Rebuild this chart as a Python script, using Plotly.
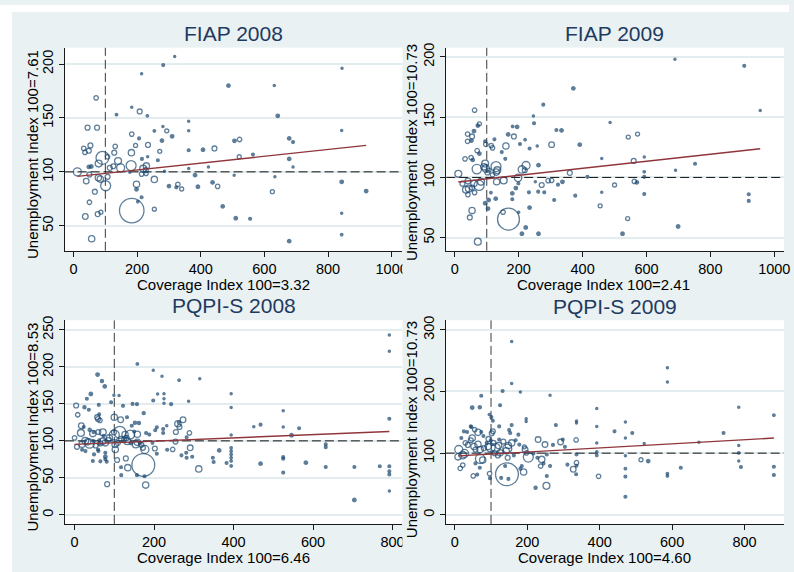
import plotly.graph_objects as go

W, H = 794, 572
BG = "#e9f1f3"
NAVY = "#1a476f"
MAROON = "#90353b"
FONT = "Liberation Sans, Arial, sans-serif"

# ---------------- DATA ----------------
titles = ["FIAP 2008", "FIAP 2009", "PQPI-S 2008", "PQPI-S 2009"]
x_titles = ["Coverage Index 100=3.32", "Coverage Index 100=2.41",
            "Coverage Index 100=6.46", "Coverage Index 100=4.60"]
y_titles = ["Unemployment Index 100=7.61", "Unemployment Index 100=10.73",
            "Unemployment Index 100=8.53", "Unemployment Index 100=10.73"]
x_ticks = [[0, 200, 400, 600, 800, 1000], [0, 200, 400, 600, 800, 1000],
           [0, 200, 400, 600, 800], [0, 200, 400, 600, 800]]
y_ticks = [[50, 100, 150, 200], [50, 100, 150, 200],
           [0, 50, 100, 150, 200, 250], [0, 100, 200, 300]]
ref_value = 100
fit_intercept = [95.4, 95.9, 95.2, 95.2]
fit_slope = [0.0317, 0.0292, 0.0220, 0.0333]

# FIAP 2008
fiap08_x = [318, 282, 214, 844, 487, 631, 71, 183, 208, 232, 135, 642, 362, 44, 74, 254, 281, 293, 310, 362,
            183, 278, 206, 195, 234, 131, 32, 53, 48, 36, 128, 182, 271, 362, 407, 443, 506, 522, 678, 690,
            564, 521, 678, 265, 233, 215, 91, 79, 56, 48, 107, 140, 114, 125, 148, 181, 219, 229, 227, 12,
            50, 40, 84, 78, 107, 101, 198, 198, 254, 214, 228, 286, 177, 300, 328, 340, 323, 382, 362, 424,
            391, 437, 453, 505, 633, 690, 625, 843, 920, 469, 510, 555, 678, 843, 843, 183, 254, 202, 214, 50,
            67, 37, 76, 86, 57, 843]
fiap08_y = [207, 199, 191, 196, 180, 180, 168.6, 160, 156, 152, 153, 152, 147, 141, 141, 138, 142, 138, 133, 138,
            135, 129, 131, 124.5, 125, 123.6, 121.8, 124.5, 119.6, 118, 117.8, 117.8, 119, 120, 120.5, 121.7, 128.8, 130, 131, 127.6,
            116, 114, 112, 110.7, 114, 112, 113, 107.7, 105, 104.6, 114, 110, 103.7, 105.2, 103.7, 105.8, 103, 105.5, 101.5, 100,
            97.5, 91.4, 93.3, 94.5, 95.4, 87.1, 88.4, 83.8, 93, 97.9, 98.5, 100.6, 99.7, 86.8, 88.4, 84.1, 85.6, 96.9, 103, 104.6,
            86.2, 90.2, 86.5, 96.9, 95.4, 104.6, 81.6, 90.8, 82.2, 68, 57, 56.5, 35.7, 61.7, 41.8, 64.1, 65.4, 72.4, 76.4, 71.8,
            81.6, 58.6, 60.8, 62.6, 38, 138.3]
fiap08_w = [1, 2, 1, 1, 3, 1, 5, 1, 6, 1.5, 1.5, 3, 1, 6, 6, 1.5, 1, 4, 3, 1,
            5, 3, 2, 4, 6, 5, 5, 6, 6, 5, 6, 10, 4, 2, 3, 6, 3, 5, 3, 2,
            2, 4, 3, 2, 1, 2, 42, 12, 3, 3, 5, 12, 6, 6, 16, 25, 12, 10, 6, 16,
            6, 8, 10, 10, 6, 25, 10, 3, 10, 5, 5, 1, 1, 3, 5, 4, 2, 3, 1, 1,
            3, 3, 5, 1, 1, 1, 4, 3, 3, 3, 3, 2, 3, 1, 1.5, 150, 4, 1.5, 2, 5,
            6, 8, 6, 4, 10, 1]

# FIAP 2009
fiap09_x = [689, 906, 956, 371, 62, 277, 246, 248, 486, 77, 72, 60, 40, 54, 52, 40, 167, 185, 195, 181,
            124, 220, 318, 334, 303, 391, 543, 572, 460, 560, 593, 752, 691, 97, 95, 70, 77, 114, 118, 160,
            147, 204, 234, 258, 158, 32, 51, 56, 69, 95, 91, 97, 107, 102, 129, 133, 130, 118, 131, 153,
            11, 24, 41, 35, 44, 60, 76, 82, 54, 62, 41, 54, 47, 72, 95, 106, 104, 113, 128, 198,
            210, 223, 219, 199, 191, 180, 180, 151, 168, 200, 234, 232, 222, 210, 262, 262, 252, 261, 280, 272,
            292, 303, 311, 323, 337, 360, 377, 415, 500, 460, 455, 541, 525, 562, 570, 593, 593, 593, 699, 920,
            920]
fiap09_y = [198, 192.6, 155.5, 173.9, 155.8, 160.4, 151, 145, 145.6, 144.5, 143, 138.5, 136, 134, 130.5, 130, 135.7, 134, 142, 142.3,
            131.6, 131.3, 139.3, 139, 127.2, 127.2, 133.5, 136, 115.7, 113.7, 117, 111.3, 106, 127.5, 130, 122.2, 119.8, 126.4, 124.5, 126.1,
            121, 127.7, 124, 126.1, 115.4, 115.4, 116.5, 114.6, 106.9, 111.5, 108.8, 107.4, 106, 104.1, 109, 106, 104.4, 102.2, 96.4, 97.5,
            103, 94.8, 97, 89.8, 90.7, 95, 93.4, 96.4, 91.5, 87.4, 85.7, 72.5, 66.8, 46.7, 78.6, 81.3, 74.2, 87.4, 82.4, 99.7,
            106.6, 109.9, 106, 95, 91.2, 86.8, 81.9, 71.2, 65.4, 71.2, 75, 87.6, 58.5, 53.3, 53.3, 110.2, 96.4, 88.2, 87.6, 93.7,
            97.3, 97.5, 81.3, 94, 96.4, 103.8, 84.9, 100.5, 93.7, 87.6, 76.4, 65.9, 53.3, 96.7, 95.9, 104.7, 100.5, 86.3, 59.3, 86,
            80.5]
fiap09_w = [1, 2, 1, 3, 5, 2, 1, 2, 1, 4, 3, 3, 5, 6, 3, 5, 3, 6, 3, 1.5,
            2, 1.5, 2, 3, 8, 3, 4, 4, 1, 6, 1, 2, 1, 5, 2, 5, 3, 5, 5, 10,
            2, 2, 2, 1, 2, 5, 5, 3, 22, 12, 10, 14, 4, 6, 25, 12, 10, 5, 10, 12,
            12, 6, 8, 12, 12, 10, 25, 12, 6, 5, 5, 10, 6, 12, 3, 3, 3, 1.5, 3, 14,
            14, 16, 6, 2, 3, 3, 2, 5, 120, 1, 3, 2, 3, 3, 3, 3, 1, 2, 2, 6,
            5, 5, 2, 2, 3, 6, 2, 2, 4, 1, 4, 4, 3, 5, 3, 1.5, 2, 2, 3, 2,
            2]

# PQPI-S 2008
pqpi08_x = [158, 198, 792, 792, 315, 263, 58, 69, 76, 220, 41, 31, 99, 112, 209, 225, 225, 225, 198, 243,
            287, 394, 394, 4, 8, 25, 36, 61, 62, 57, 59, 64, 92, 122, 146, 157, 174, 100, 116, 132,
            152, 162, 144, 17, 23, 38, 48, 16, 46, 60, 71, 73, 87.5, 99, 100, 114, 127, 140, 131, 150,
            158, 180, 188, 203, 207, 223, 223, 232, 255, 260, 264, 273, 289, 262, 0, 6, 19, 27, 33, 38,
            48, 62, 62, 53, 60, 59, 27.5, 19, 71, 65, 77.5, 85, 102, 102.5, 109, 117, 125, 132.5, 142, 154,
            158, 165, 168, 172, 177, 196, 202, 207, 233, 247, 254, 282, 291, 269, 281, 282, 296, 46, 49, 77.5,
            77.5, 77.5, 81, 65, 107, 129, 134, 117, 117.5, 82, 173, 157, 176, 179, 312.5, 348, 350, 364, 382.5, 394,
            394, 394, 394, 394, 394, 394, 451, 468, 468, 525, 525, 525, 525, 525, 546, 565, 582, 632, 632, 632,
            704, 704, 768, 792, 792, 792, 792, 792]
pqpi08_y = [204, 195.5, 243, 221, 184, 182, 189.7, 180.8, 173.7, 187.5, 163.4, 157, 161.6, 161.2, 163.4, 163.8, 157, 150.9, 154.5, 149.6,
            153.6, 163.8, 145, 147.8, 135.3, 145.5, 142, 148.7, 136, 132, 129.5, 127.7, 152.2, 147.3, 150, 149.6, 137.5, 132, 128.6, 132,
            124.6, 124.1, 120.5, 120.5, 118.7, 115, 111.6, 110.7, 109.8, 112, 111.6, 106.7, 104, 111.6, 108, 111.6, 108.5, 108.5, 104, 112.5,
            109, 110.7, 108.5, 114.3, 118.3, 116, 110.7, 120.5, 112, 123.2, 118.8, 128.6, 110.7, 125, 104, 92, 95.5, 100, 98.7, 96.4,
            99.6, 100.9, 96, 93.7, 86.2, 88.4, 86.2, 88, 99.6, 96.4, 97.3, 101, 95.1, 88.4, 97.3, 102.7, 101.8, 99.6, 96.9, 95.1,
            98.2, 97.3, 94.6, 90.6, 88.4, 97.3, 89.7, 82.6, 88, 88.4, 99.1, 104.9, 90.6, 80.4, 83.9, 77.2, 78.6, 72.8, 81.7, 83.9,
            78.6, 75, 71.9, 72.3, 74.1, 76.3, 63.8, 64.3, 53.6, 41.5, 67.4, 53.6, 52.2, 40.2, 62.1, 77.2, 71.4, 87.1, 70.1, 108,
            90.6, 86.2, 81.7, 77.2, 72.8, 66.1, 119.2, 121.9, 69.2, 140.6, 118.8, 78.1, 75.9, 57.1, 107.6, 117, 70.5, 95.5, 91.5, 64.7,
            64.7, 20.1, 65.6, 129.9, 65.6, 58.9, 54.5, 32.1]
pqpi08_w = [1.5, 1, 1, 1, 1, 1.5, 3, 2.5, 3, 1, 3, 2, 1, 1, 1, 1, 1, 1, 2, 2,
            1, 1, 1, 6, 5, 2.5, 2, 2, 2, 6, 6, 5, 2, 2, 2, 2, 2.5, 10, 8, 2,
            2.5, 2.5, 2, 8, 2, 2.5, 2, 12, 10, 6, 12, 2, 10, 6, 25, 36, 10, 20, 6, 2,
            10, 2, 2, 2, 2, 2, 2, 1, 6, 10, 6, 8, 5, 2, 5, 6, 10, 12, 10, 22,
            2, 2, 2, 6, 2, 2, 2, 2, 10, 6, 10, 6, 10, 10, 6, 6, 6, 12, 3, 12,
            10, 3, 6, 6, 16, 2, 6, 2, 2, 5, 6, 2, 8, 2, 2, 2, 2, 2, 2, 2,
            3, 2, 2, 2, 6, 6, 10, 2, 2, 6, 130, 2, 2, 10, 10, 2, 2, 3, 2, 1,
            1.5, 1.5, 1.5, 1.5, 1.5, 1.5, 1, 2, 3, 1, 1, 2, 2, 2, 3, 2, 3, 2, 2, 2,
            2, 3, 2, 2, 2, 2, 2, 1]

# PQPI-S 2009
pqpi09_x = [157, 157, 132, 181, 263, 73, 125, 48, 69, 95, 101, 105, 197, 197, 157, 122.5, 44, 279, 336, 336,
            392, 392, 471, 587, 587, 784, 881, 742, 490, 441, 471, 523, 674, 784, 784, 784, 790, 881, 881, 624,
            587, 587, 534, 514, 471, 471, 471, 471, 397, 392, 392, 392, 335, 336, 336, 336, 335, 327, 311, 298,
            292, 304, 271, 249, 230, 254, 254, 253, 223, 240, 237, 245, 263, 203, 194, 198, 217, 228, 190, 181,
            185, 163, 144, 139, 128, 148, 96, 97, 70, 77, 57, 69, 51, 62, 22, 15, 9, 22, 27, 11,
            18, 25, 34, 46, 55, 64, 73, 79, 48, 44, 29, 36, 53, 64, 57, 70, 80, 92, 88, 99,
            102, 105, 93, 107, 99, 113, 121, 134, 122.5, 148, 145, 142, 157, 125, 110, 119, 146, 153, 150, 175.5,
            168, 178, 192]
pqpi09_y = [281, 213, 200.7, 199, 194, 193, 177.7, 174, 174.5, 162.7, 158.4, 152.5, 155.7, 151.4, 145.5, 143.4, 143.4, 145.5, 152, 148.8,
            172.3, 143.4, 150.4, 238.7, 215.2, 174.5, 161.6, 132.7, 132.7, 135.4, 124.6, 115.5, 117.7, 112.3, 100.5, 87.1, 77.5, 78, 64.6, 76.4,
            66.8, 63, 87.1, 89.3, 95.7, 74.8, 62, 29.3, 62.5, 116.6, 102.1, 96.3, 121.4, 97.9, 84.5, 79.6, 65.7, 73.8, 81.3, 122,
            118.2, 110.2, 113.4, 113.9, 122, 97.9, 63, 47, 43.8, 89.8, 79.1, 83.4, 79.1, 93.6, 105.9, 100.5, 99.5, 92.5, 69.5, 74.8,
            79.1, 96.3, 65.7, 79.1, 59.8, 58.2, 66.8, 59.3, 90.9, 88.7, 83.4, 76.4, 63, 65.2, 80.7, 75.4, 94, 96.8, 99.5, 105.9,
            124.6, 135.4, 134.3, 142.3, 138, 133.7, 134.3, 127.9, 124.6, 120.9, 116.6, 113.4, 110.7, 114.5, 105.9, 105.9, 108, 110.7, 116.6, 120.9,
            132.1, 135.4, 123, 116.6, 109.1, 108.6, 112.3, 118.8, 122, 112.3, 107.5, 103.7, 116.6, 100.5, 100, 96.3, 92.5, 132.7, 137.5, 130,
            120.9, 113.9, 110.2]
pqpi09_w = [1, 1, 2, 1, 1, 2, 2, 3, 2.5, 1, 2, 2, 1, 1, 2, 2, 2, 2, 1, 1,
            1, 1, 1, 1, 1, 1, 1.5, 2, 2, 2, 1, 1, 1, 1, 1.5, 1, 2, 2, 2, 2,
            1.5, 1.5, 3, 4, 1, 1.5, 2, 2, 5, 1, 1.5, 1.5, 5, 2, 5, 2, 2, 8, 2, 2,
            8, 2, 2, 8, 8, 2, 2, 12, 2.5, 10, 5, 2, 2, 25, 8, 5, 2, 2, 10, 2,
            2, 2, 130, 2, 2, 2, 5, 2, 22, 10, 2, 2, 5, 2, 5, 5, 10, 14, 16, 16,
            2, 2, 2, 2, 5, 10, 2, 2, 10, 6, 5, 6, 10, 10, 6, 10, 6, 10, 2, 2,
            6, 6, 6, 6, 20, 20, 10, 6, 2, 10, 20, 10, 10, 10, 6, 6, 6, 2, 2, 2,
            2, 2, 4]

panels_x = [fiap08_x, fiap09_x, pqpi08_x, pqpi09_x]
panels_y = [fiap08_y, fiap09_y, pqpi08_y, pqpi09_y]
panels_w = [fiap08_w, fiap09_w, pqpi08_w, pqpi09_w]

# ---------------- LAYOUT GEOMETRY (pixels) ----------------
geom = [
    dict(x0=65, x1=405, y0=43, y1=248, xr=[-28.1, 1034], yr=[26.75, 215.2],
         title=(235, 29), xt=(224.5, 281.5), yt=(32, 150.5)),
    dict(x0=449, x1=789, y0=43, y1=248, xr=[-27, 1030.5], yr=[39.1, 207.7],
         title=(618, 29), xt=(607.5, 281.5), yt=(414, 149)),
    dict(x0=65.3, x1=405, y0=318, y1=523.5, xr=[-24.3, 825], yr=[-12.3, 263.1],
         title=(235, 303), xt=(224.5, 557), yt=(32.5, 426)),
    dict(x0=448.5, x1=789, y0=318, y1=523.5, xr=[-25.2, 909], yr=[-14.8, 315.6],
         title=(619, 304), xt=(608, 557), yt=(414, 428.5)),
]


def fx(px):
    return px / W


def fy(py):
    return 1 - py / H


fig = go.Figure()
shapes = []
annotations = []
layout_axes = {}

for i in range(4):
    g = geom[i]
    sfx = "" if i == 0 else str(i + 1)
    xa_name, ya_name = "x" + sfx, "y" + sfx
    xs, ys, ws = panels_x[i], panels_y[i], panels_w[i]

    # reference lines at 100 (drawn first, beneath markers)
    fig.add_trace(go.Scatter(
        x=[ref_value, ref_value], y=g["yr"], mode="lines", xaxis=xa_name, yaxis=ya_name,
        line=dict(color="#3a3a3a", width=1, dash="9px,4px"),
        showlegend=False, hoverinfo="skip"))
    fig.add_trace(go.Scatter(
        x=g["xr"], y=[ref_value, ref_value], mode="lines", xaxis=xa_name, yaxis=ya_name,
        line=dict(color="#111", width=1, dash="9px,4px"),
        showlegend=False, hoverinfo="skip"))

    sizes = [max(2.2, 2.0 * (w ** 0.5)) for w in ws]
    symbols = ["circle" if w < 4 else "circle-open" for w in ws]
    fig.add_trace(go.Scatter(
        x=xs, y=ys, mode="markers", xaxis=xa_name, yaxis=ya_name,
        marker=dict(symbol=symbols, size=sizes, color=NAVY,
                    line=dict(width=1.3, color=NAVY)),
        showlegend=False, hoverinfo="skip"))

    xa, xb = min(xs), max(xs)
    b, m = fit_intercept[i], fit_slope[i]
    fig.add_trace(go.Scatter(
        x=[xa, xb], y=[b + m * xa, b + m * xb], mode="lines",
        xaxis=xa_name, yaxis=ya_name,
        line=dict(color=MAROON, width=1.4), showlegend=False, hoverinfo="skip"))

    layout_axes["xaxis" + sfx] = dict(
        domain=[fx(g["x0"]), fx(g["x1"])], range=g["xr"], anchor=ya_name,
        tickvals=x_ticks[i], showgrid=False, zeroline=False, showline=True,
        linecolor="#1a1a1a", linewidth=1, ticks="outside", ticklen=5,
        tickcolor="#1a1a1a", tickwidth=1,
        tickfont=dict(family=FONT, size=14.5, color="#000"))
    layout_axes["yaxis" + sfx] = dict(
        domain=[fy(g["y1"]), fy(g["y0"])], range=g["yr"], anchor=xa_name,
        tickvals=y_ticks[i], showgrid=True, gridcolor="#e3ecef", gridwidth=1.6,
        zeroline=False, showline=True, linecolor="#1a1a1a", linewidth=1,
        ticks="outside", ticklen=5, tickcolor="#1a1a1a", tickwidth=1,
        tickangle=-90, tickfont=dict(family=FONT, size=14.5, color="#000"))

    annotations.append(dict(text=titles[i], xref="paper", yref="paper",
                            x=fx(g["title"][0]), y=fy(g["title"][1]),
                            xanchor="center", yanchor="middle", showarrow=False,
                            font=dict(family=FONT, size=21, color="#1f3a60")))
    annotations.append(dict(text=x_titles[i], xref="paper", yref="paper",
                            x=fx(g["xt"][0]), y=fy(g["xt"][1]),
                            xanchor="center", yanchor="middle", showarrow=False,
                            font=dict(family=FONT, size=15, color="#000")))
    annotations.append(dict(text=y_titles[i], xref="paper", yref="paper",
                            x=fx(g["yt"][0]), y=fy(g["yt"][1]), textangle=-90,
                            xanchor="center", yanchor="middle", showarrow=False,
                            font=dict(family=FONT, size=15, color="#000")))

# white outer margins (top / left) and clipping covers for cut tick labels
shapes += [
    dict(type="rect", xref="paper", yref="paper", x0=0, x1=fx(12), y0=0, y1=1,
         fillcolor="white", line=dict(width=0), layer="above"),
    dict(type="rect", xref="paper", yref="paper", x0=0, x1=1, y0=fy(7), y1=1,
         fillcolor="white", line=dict(width=0), layer="above"),
    dict(type="rect", xref="paper", yref="paper", x0=fx(405), x1=fx(428),
         y0=fy(300), y1=fy(249), fillcolor=BG, line=dict(width=0), layer="above"),
    dict(type="rect", xref="paper", yref="paper", x0=fx(405), x1=fx(428),
         y0=0, y1=fy(524.5), fillcolor=BG, line=dict(width=0), layer="above"),
]

fig.update_layout(
    width=W, height=H, margin=dict(l=0, r=0, t=0, b=0),
    paper_bgcolor=BG, plot_bgcolor="white",
    font=dict(family=FONT), showlegend=False,
    shapes=shapes, annotations=annotations, **layout_axes)

fig.write_html("out.html")
